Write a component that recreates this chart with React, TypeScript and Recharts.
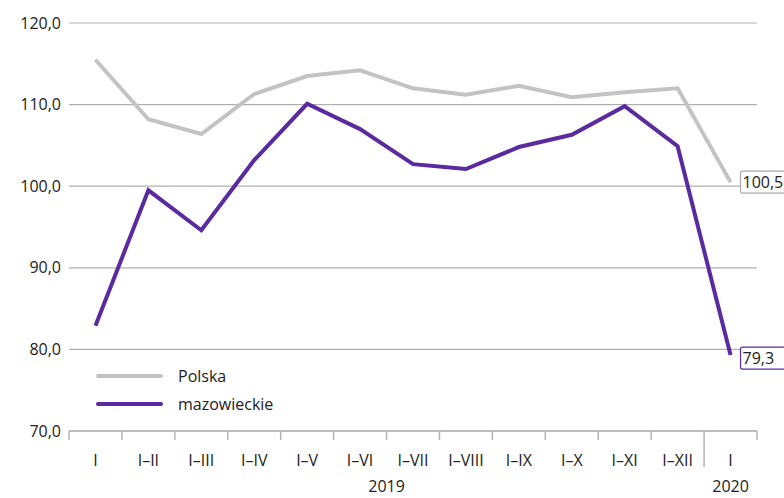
import React from 'react';
import { LineChart, Line, XAxis, YAxis, CartesianGrid } from 'recharts';

const categories = ['I', 'I–II', 'I–III', 'I–IV', 'I–V', 'I–VI', 'I–VII', 'I–VIII', 'I–IX', 'I–X', 'I–XI', 'I–XII', 'I '];
const polska = [115.5, 108.2, 106.4, 111.3, 113.5, 114.2, 112.0, 111.2, 112.3, 110.9, 111.5, 112.0, 100.5];
const mazowieckie = [82.9, 99.5, 94.6, 103.2, 110.1, 107.0, 102.7, 102.1, 104.8, 106.3, 109.8, 104.9, 79.3];
const yTicks = [70, 80, 90, 100, 110, 120];

const GRAY = '#c3c3c3';
const PURPLE = '#5a2b9e';
const FONT = "'Open Sans', sans-serif";

const data = categories.map((c, i) => ({ cat: c, polska: polska[i], mazowieckie: mazowieckie[i] }));

const fmt = (v: number) => v.toFixed(1).replace('.', ',');

const BAND = (757 - 69) / categories.length;

function XTick(props: any) {
  const { x, payload, index } = props;
  const y = 431;
  const left = x - BAND / 2;
  const right = x + BAND / 2;
  return (
    <g>
      <line x1={left} x2={left} y1={y} y2={index === 12 ? y + 36 : y + 9} stroke="#b5b5b5" strokeWidth={1.5} />
      {index === 12 && <line x1={right} x2={right} y1={y} y2={y + 9} stroke="#b5b5b5" strokeWidth={1.5} />}
      <text x={x} y={y + 35} textAnchor="middle" fontSize={16} fill="#222" fontFamily={FONT}>
        {payload.value.trim()}
      </text>
      {index === 6 && (
        <text x={left} y={y + 61} textAnchor="middle" fontSize={16} fill="#222" fontFamily={FONT}>2019</text>
      )}
      {index === 12 && (
        <text x={x} y={y + 61} textAnchor="middle" fontSize={16} fill="#222" fontFamily={FONT}>2020</text>
      )}
    </g>
  );
}

function endLabel(color: string, dy: number) {
  return (props: any) => {
    const { x, y, value, index } = props;
    if (index !== categories.length - 1) return null;
    return (
      <g>
        <rect x={x + 10} y={y - 11 + dy} width={48} height={22} fill="#fff" stroke={color} strokeWidth={1.2} rx={2} />
        <text x={x + 12} y={y + 6 + dy} fontSize={16} fill="#222" fontFamily={FONT}>{fmt(value)}</text>
      </g>
    );
  };
}

export default function App() {
  return (
    <div style={{ position: 'absolute', left: 0, top: 0, width: 784, height: 498, background: '#fff', overflow: 'hidden' }}>
      <LineChart width={784} height={498} data={data} margin={{ top: 23, right: 27, left: 0, bottom: 0 }}>
        <CartesianGrid vertical={false} stroke="#b0b0b0" strokeWidth={1.2} />
        <XAxis
          dataKey="cat"
          scale="band"
          interval={0}
          height={67}
          axisLine={{ stroke: '#b5b5b5', strokeWidth: 1.5 }}
          tickLine={false}
          tick={<XTick />}
        />
        <YAxis
          domain={[70, 120]}
          ticks={yTicks}
          width={69}
          axisLine={false}
          tickLine={false}
          tickFormatter={fmt}
          tick={{ fontSize: 16, fill: '#222', fontFamily: FONT }}
        />
        <Line
          dataKey="polska"
          stroke={GRAY}
          strokeWidth={4}
          dot={false}
          isAnimationActive={false}
          label={endLabel('#aaa', 0)}
        />
        <Line
          dataKey="mazowieckie"
          stroke={PURPLE}
          strokeWidth={4}
          dot={false}
          isAnimationActive={false}
          label={endLabel(PURPLE, 3)}
        />
      </LineChart>
      <div style={{ position: 'absolute', left: 96, top: 362, fontFamily: FONT, fontSize: 16, color: '#222' }}>
        <div style={{ display: 'flex', alignItems: 'center', height: 28 }}>
          <span style={{ display: 'inline-block', width: 67, height: 4, borderRadius: 2, background: GRAY, marginRight: 15 }} />
          Polska
        </div>
        <div style={{ display: 'flex', alignItems: 'center', height: 28 }}>
          <span style={{ display: 'inline-block', width: 67, height: 4, borderRadius: 2, background: PURPLE, marginRight: 15 }} />
          mazowieckie
        </div>
      </div>
    </div>
  );
}
